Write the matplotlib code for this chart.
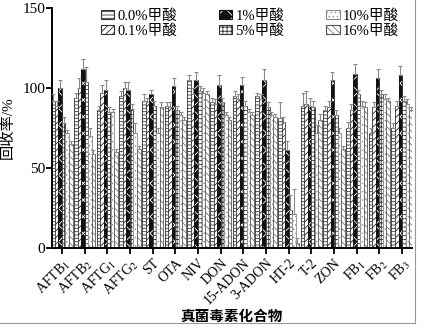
import numpy as np
import matplotlib
matplotlib.use("Agg")
import matplotlib.pyplot as plt
from matplotlib.lines import Line2D
from matplotlib.patches import Patch

plt.rcParams['font.family'] = ['Liberation Serif', 'Noto Sans CJK SC']
plt.rcParams['hatch.linewidth'] = 0.6
plt.rcParams['mathtext.fontset'] = 'stix'

# ---- recovery data (%), one list per formic acid level ----
compounds = ["AFTB$_1$", "AFTB$_2$", "AFTG$_1$", "AFTG$_2$", "ST", "OTA", "NIV", "DON",
             "15-ADON", "3-ADON", "HT-2", "T-2", "ZON", "FB$_1$", "FB$_2$", "FB$_3$"]
series = ["0.0%甲酸", "0.1%甲酸", "1%甲酸", "5%甲酸", "10%甲酸", "16%甲酸"]

rec_00 = [92, 94, 86, 95, 92, 89, 105, 91, 95, 95, 81, 89, 86, 75, 72, 75]
rec_01 = [89, 100, 97, 100, 91, 88, 96, 90, 93, 93, 79, 90, 88, 86, 88, 89]
rec_1  = [100, 112, 99, 99, 96, 101, 105, 102, 102, 105, 61, 89, 105, 109, 106, 108]
rec_5  = [78, 104, 85, 87, 89, 86, 98, 91, 89, 88, 24, 88, 83, 96, 96, 92]
rec_10 = [72, 70, 85, 72, 72, 83, 97, 83, 85, 83, 21, 72, 72, 89, 93, 90]
rec_16 = [65, 59, 60, 62, 88, 80, 96, 80, 83, 82, 3, 80, 62, 88, 92, 86]

err_00 = [4, 3, 3, 3, 4, 2, 3, 3, 3, 2, 10, 8, 3, 4, 3, 3]
err_01 = [3, 6, 5, 4, 3, 3, 4, 3, 3, 3, 3, 8, 4, 4, 3, 3]
err_1  = [5, 6, 6, 5, 3, 5, 5, 6, 5, 7, 6, 5, 5, 6, 6, 6]
err_5  = [4, 9, 3, 3, 3, 3, 3, 3, 3, 3, 9, 4, 3, 3, 3, 3]
err_10 = [2, 5, 2, 6, 3, 2, 3, 2, 2, 2, 16, 5, 3, 3, 3, 3]
err_16 = [2, 2, 2, 2, 3, 2, 2, 2, 2, 2, 3, 4, 2, 3, 2, 2]

values = [rec_00, rec_01, rec_1, rec_5, rec_10, rec_16]
errors = [err_00, err_01, err_1, err_5, err_10, err_16]

styles = [  # (facecolor, hatch colour, hatch, outline colour)
    ("white", "#333333", "-----", "#333333"),
    ("white", "#222222", "/////", "#333333"),
    ("#111111", "white", "xx", "#111111"),
    ("white", "#333333", "++++", "#333333"),
    ("white", "#999999", "....", "#888888"),
    ("white", "#777777", "\\\\\\\\\\", "#555555"),
]

fig = plt.figure(figsize=(4.21, 3.28), dpi=100)
ax = fig.add_axes([52/421, 1 - 248/328, 360/421, 240/328])

n = len(series)
gw = 0.93
w = gw / n
x = np.arange(len(compounds))
handles = []
for i, (vals, errs) in enumerate(zip(values, errors)):
    fc, hc, h, oc = styles[i]
    pos = x - gw/2 + w*(i + 0.5)
    # hatched fill, then an outline on top
    ax.bar(pos, vals, w, color=fc, edgecolor=hc, hatch=h, lw=0, zorder=2)
    ax.bar(pos, vals, w, fill=False, edgecolor=oc, lw=0.6, zorder=2)
    ax.errorbar(pos, vals, yerr=[np.zeros(len(errs)), errs], fmt="none",
                ecolor="#8a8a8a", elinewidth=0.8, capsize=1.2, capthick=0.8, zorder=3)
    handles.append((Patch(facecolor=fc, edgecolor=hc, hatch=h, lw=0),
                    Patch(fill=False, edgecolor=oc, lw=0.8)))

ax.set_xlim(-0.44, len(compounds) - 0.56)
ax.set_ylim(0, 150)
ax.set_yticks([0, 50, 100, 150])
ax.set_xticks(x)
ax.set_xticklabels(compounds, rotation=45, ha="right", rotation_mode="anchor", fontsize=10)
ax.tick_params(axis="y", labelsize=11, length=4, width=1.3, direction="out", pad=1)
ax.tick_params(axis="x", length=4, width=1.3, direction="out", pad=2)
for s in ["top", "right"]:
    ax.spines[s].set_visible(False)
for s in ["left", "bottom"]:
    ax.spines[s].set_linewidth(1.4)

ax.set_ylabel("回收率/%", fontsize=11, labelpad=5)
ax.set_xlabel("真菌毒素化合物", fontsize=10.5, fontweight="bold", labelpad=2)

ax.legend(handles, series, ncol=3, loc="upper left", bbox_to_anchor=(0.12, 1.02),
          frameon=False, fontsize=10.5, handlelength=0.9, handleheight=0.6,
          handletextpad=0.2, columnspacing=2.9, labelspacing=0.1, borderaxespad=0)

# thin frame lines along the right and bottom edges of the figure
fig.add_artist(Line2D([415/421, 415/421], [5/328, 1], transform=fig.transFigure,
                      color="#999999", lw=0.8))
fig.add_artist(Line2D([0, 415/421], [5/328, 5/328], transform=fig.transFigure,
                      color="#999999", lw=0.8))

fig.savefig("out.png", dpi=100)
